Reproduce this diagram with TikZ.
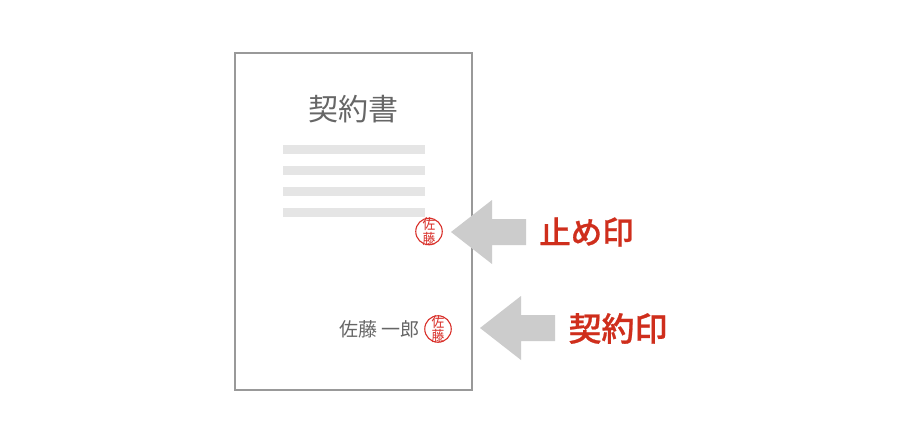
\documentclass[tikz,border=0pt]{standalone}
\usepackage{fontspec}
\newfontfamily\cjk{Noto Sans CJK JP}
\newfontfamily\cjkmed[FakeBold=0.7]{Noto Sans CJK JP Medium}
\definecolor{framegray}{HTML}{999999}
\definecolor{bargray}{HTML}{E5E5E5}
\definecolor{arrowgray}{HTML}{CCCCCC}
\definecolor{inkgray}{HTML}{666666}
\definecolor{labelred}{HTML}{CF2E1C}
\definecolor{stampred}{HTML}{D9302A}
\tikzset{
  x=1pt,y=-1pt,
  bar/.style={fill=bargray,draw=none},
  bigarrow/.style={fill=arrowgray,draw=none},
  stampring/.style={circle,draw=stampred,line width=1.1pt,minimum size=26.5pt,inner sep=0pt,fill=white},
  stamptext/.style={text=stampred,font=\cjk\fontsize{14.5}{13}\selectfont,align=center,inner sep=0pt,xscale=0.88},
  redlabel/.style={text=labelred,inner sep=0pt},
  graytext/.style={text=inkgray,inner sep=0pt}
}
\begin{document}
\begin{tikzpicture}
\useasboundingbox (0,0) rectangle (900,436);
\fill[white] (0,0) rectangle (900,436);
\node[draw=framegray,line width=2pt,fill=white,minimum width=237pt,minimum height=336pt,inner sep=0pt] (sheet) at (353,221.5) {};
\node[graytext,font=\cjk\fontsize{30}{30}\selectfont] (title) at (353,109) {契約書};
\fill[bar] (283,145) rectangle (425,154);
\fill[bar] (283,166) rectangle (425,175);
\fill[bar] (283,187) rectangle (425,196);
\fill[bar] (283,208) rectangle (425,217);
\node[stampring] (stampA) at (429,231.5) {};
\node[stamptext] at (stampA) {佐\\藤};
\node[graytext,font=\cjk\fontsize{19}{19}\selectfont,anchor=east] (name) at (420,329) {佐藤\hspace{4.5pt}一郎};
\node[stampring] (stampB) at (438,329) {};
\node[stamptext] at (stampB) {佐\\藤};
\fill[bigarrow] (451,232) -- (492,200) -- (492,219) -- (526,219) -- (526,245) -- (492,245) -- (492,264) -- cycle;
\fill[bigarrow] (480,328) -- (521,296) -- (521,315) -- (555,315) -- (555,341) -- (521,341) -- (521,360) -- cycle;
\node[redlabel,font=\cjkmed\fontsize{31.5}{31.5}\selectfont] (tome) at (586.5,232) {止め印};
\node[redlabel,font=\cjkmed\fontsize{33}{33}\selectfont] (keiyaku) at (618,328.5) {契約印};
\end{tikzpicture}
\end{document}
